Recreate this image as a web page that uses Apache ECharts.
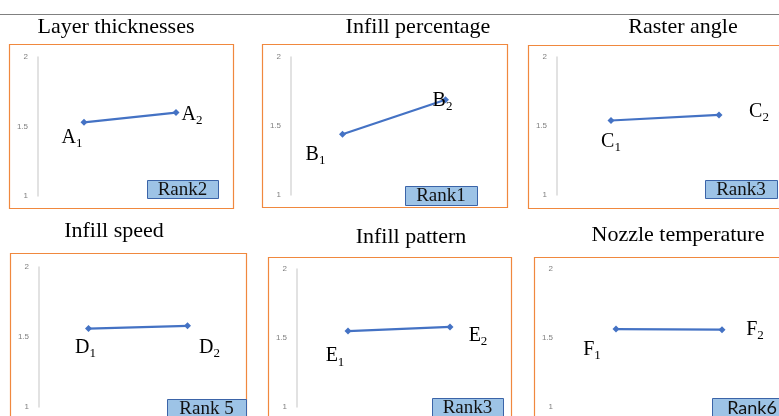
<!DOCTYPE html>
<html>
<head>
<meta charset="utf-8">
<script src="https://cdn.jsdelivr.net/npm/echarts@6/dist/echarts.min.js"></script>
<style>
html,body{margin:0;padding:0;background:#fff;}
#chart{width:779px;height:416px;}
</style>
</head>
<body>
<div id="chart"></div>
<script>
// ---- data ----
const levels = ['Level 1', 'Level 2'];
const panelTitles = ['Layer thicknesses', 'Infill percentage', 'Raster angle', 'Infill speed', 'Infill pattern', 'Nozzle temperature'];
const factorLetters = ['A', 'B', 'C', 'D', 'E', 'F'];
const rankLabels = ['Rank2', 'Rank1', 'Rank3', 'Rank 5', 'Rank3', 'Rank6'];
const layerThickness = [1.53, 1.60];
const infillPercentage = [1.44, 1.69];
const rasterAngle = [1.54, 1.58];
const infillSpeed = [1.56, 1.58];
const infillPattern = [1.55, 1.58];
const nozzleTemperature = [1.565, 1.56];
const yTicks = { min: 1, max: 2, interval: 0.5 };

const seriesValues = [layerThickness, infillPercentage, rasterAngle, infillSpeed, infillPattern, nozzleTemperature];

// ---- layout (positions / styles) ----
const layout = [
  { grid: [38, 57, 184, 139], box: [9, 44, 224, 164], title: [116, 16], rank: [147, 180, 71, 18], axisLine: true,
    off: [[-12, 15], [16, 2]], rankFont: 'serif' },
  { grid: [291, 57, 206, 138], box: [262, 44, 245, 163], title: [418, 16], rank: [405, 186, 72, 19], axisLine: true,
    off: [[-27, 20], [-3, 1]], rankFont: 'serif' },
  { grid: [557, 57, 216, 138], box: [528, 45, 262, 163], title: [683, 16], rank: [705, 180, 72, 18], axisLine: true,
    off: [[0, 21], [40, -3]], rankFont: 'serif' },
  { grid: [39, 267, 198, 140], box: [10, 253, 236, 180], title: [114, 220], rank: [167, 399, 79, 22], axisLine: true,
    off: [[-3, 19], [22, 22]], rankFont: 'serif' },
  { grid: [297, 269, 204, 138], box: [268, 257, 243, 180], title: [411, 226], rank: [432, 398, 71, 22], axisLine: true,
    off: [[-13, 25], [28, 9]], rankFont: 'serif' },
  { grid: [563, 269, 212, 138], box: [534, 257, 262, 180], title: [678, 224], rank: [712, 398, 80, 22], axisLine: false,
    off: [[-24, 21], [33, 0]], rankFont: 'sans' }
];

const serif = "'Liberation Serif','DejaVu Serif',serif";
const sans = "Lato,'Open Sans','Noto Sans',sans-serif";

const grids = [], xAxes = [], yAxes = [], series = [], titles = [], graphics = [];

graphics.push({ type: 'line', shape: { x1: 0, y1: 14.5, x2: 779, y2: 14.5 }, style: { stroke: '#808080', lineWidth: 1 }, silent: true });

layout.forEach((L, i) => {
  grids.push({ left: L.grid[0], top: L.grid[1], width: L.grid[2], height: L.grid[3], containLabel: false });
  xAxes.push({ type: 'category', gridIndex: i, data: levels, boundaryGap: true,
    axisLine: { show: false }, axisTick: { show: false }, axisLabel: { show: false }, splitLine: { show: false } });
  yAxes.push({ type: 'value', gridIndex: i, min: yTicks.min, max: yTicks.max, interval: yTicks.interval,
    axisLine: { show: L.axisLine, lineStyle: { color: '#d9d9d9', width: 1.5 } },
    axisTick: { show: false }, splitLine: { show: false },
    axisLabel: { fontSize: 8, color: '#7f7f7f', margin: 10, fontFamily: "'Liberation Sans',sans-serif" } });
  const letter = factorLetters[i];
  series.push({
    type: 'line', xAxisIndex: i, yAxisIndex: i,
    data: seriesValues[i].map((v, j) => ({
      value: v,
      label: { offset: L.off[j], formatter: '{m|' + letter + '}{s|' + (j + 1) + '}' }
    })),
    symbol: 'diamond', symbolSize: 7,
    lineStyle: { color: '#4472C4', width: 2.2 },
    itemStyle: { color: '#4472C4' },
    label: {
      show: true, position: 'inside',
      rich: {
        m: { fontSize: 20, fontFamily: serif, color: '#000', lineHeight: 25 },
        s: { fontSize: 13, fontFamily: serif, color: '#000', lineHeight: 10, verticalAlign: 'bottom' }
      }
    },
    animation: false
  });
  titles.push({ text: panelTitles[i], left: L.title[0], top: L.title[1], textAlign: 'center', padding: 0,
    textStyle: { fontFamily: serif, fontSize: 22, fontWeight: 'normal', color: '#000' } });
  graphics.push({ type: 'rect', shape: { x: L.box[0] + 0.5, y: L.box[1] + 0.5, width: L.box[2], height: L.box[3] },
    style: { fill: 'none', stroke: '#F0883E', lineWidth: 1.2 }, silent: true, z: 0 });
  graphics.push({ type: 'rect', shape: { x: L.rank[0] + 0.5, y: L.rank[1] + 0.5, width: L.rank[2], height: L.rank[3] },
    style: { fill: '#9DC3E6', stroke: '#3B64A8', lineWidth: 1 }, silent: true, z: 1 });
  graphics.push({ type: 'text', x: L.rank[0] + L.rank[2] / 2, y: L.rank[1] + 10,
    style: { text: rankLabels[i], fill: '#111', font: (L.rankFont === 'sans' ? '18px ' + sans : '19px ' + serif),
      textAlign: 'center', textVerticalAlign: 'middle' }, silent: true, z: 2 });
});

const chart = echarts.init(document.getElementById('chart'), null, { renderer: 'canvas' });
chart.setOption({
  animation: false,
  backgroundColor: '#fff',
  title: titles,
  grid: grids,
  xAxis: xAxes,
  yAxis: yAxes,
  series: series,
  graphic: graphics
});
</script>
</body>
</html>
